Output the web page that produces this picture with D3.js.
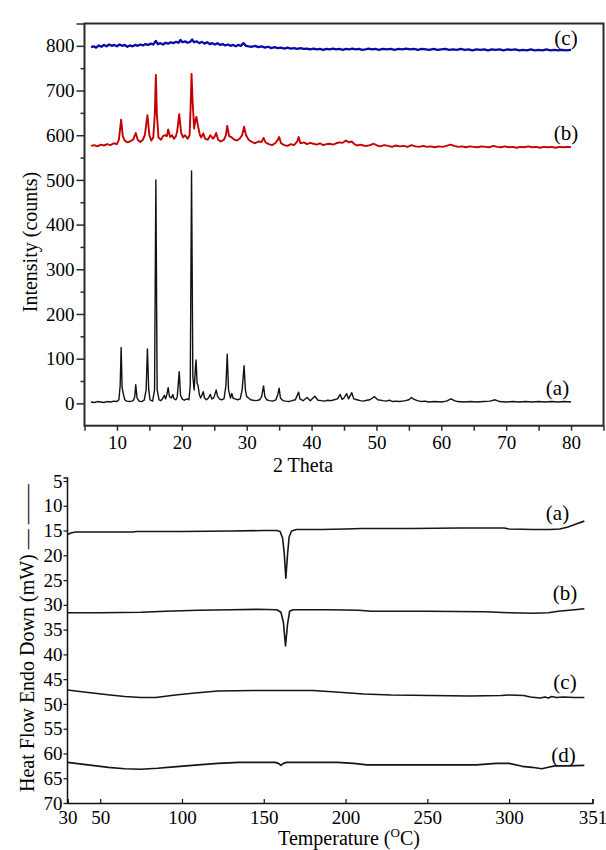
<!DOCTYPE html>
<html><head><meta charset="utf-8">
<script src="https://cdn.jsdelivr.net/npm/d3@7"></script>
<style>body{margin:0;background:#fff}svg{display:block}text{font-family:"Liberation Serif","Times New Roman",serif;fill:#000}</style>
</head><body><svg id="c" width="606" height="850"></svg>
<script>
// ---------- XRD data (2 Theta, counts) ----------
const xrdA = [[6.0,3],[6.5,2],[7.0,4],[7.5,3],[8.0,2],[8.5,4],[9.0,3],[9.5,5],[10.0,4],[10.3,8],[10.5,40],[10.65,125],[10.8,35],[11.0,20],[11.2,8],[11.5,5],[12.0,4],[12.5,6],[12.75,15],[12.9,42],[13.1,12],[13.4,5],[13.8,4],[14.2,7],[14.5,30],[14.7,122],[14.9,30],[15.1,8],[15.5,5],[15.8,30],[16.0,500],[16.2,30],[16.5,8],[16.8,6],[17.1,12],[17.3,18],[17.5,10],[17.7,20],[17.9,35],[18.1,15],[18.4,12],[18.6,20],[18.8,10],[19.1,8],[19.3,15],[19.6,71],[19.8,18],[20.1,9],[20.4,7],[20.8,10],[21.1,8],[21.3,40],[21.5,520],[21.7,60],[21.9,30],[22.1,80],[22.2,97],[22.35,45],[22.5,40],[22.7,20],[22.9,12],[23.1,18],[23.3,26],[23.5,12],[23.8,8],[24.1,12],[24.4,20],[24.6,10],[24.9,12],[25.1,20],[25.3,30],[25.5,16],[25.8,10],[26.1,8],[26.5,10],[26.8,40],[27.0,110],[27.2,30],[27.5,12],[27.7,22],[27.9,12],[28.2,10],[28.6,8],[29.0,10],[29.3,30],[29.6,84],[29.8,30],[30.0,15],[30.3,12],[30.6,8],[31.0,7],[31.5,6],[32.0,8],[32.3,15],[32.6,39],[32.8,15],[33.1,8],[33.5,6],[34.0,5],[34.5,8],[34.8,20],[35.0,34],[35.2,12],[35.6,6],[36.0,5],[36.5,4],[37.0,6],[37.5,8],[37.8,18],[38.0,25],[38.2,10],[38.7,6],[39.3,13],[39.8,6],[40.5,16],[41.0,7],[41.5,6],[42.0,5],[42.5,7],[43.0,6],[43.5,8],[44.0,10],[44.4,20],[44.7,9],[45.0,12],[45.4,22],[45.7,10],[46.2,24],[46.5,10],[47.0,8],[47.5,6],[48.0,5],[48.5,7],[49.0,8],[49.7,15],[50.2,8],[51.0,6],[51.5,5],[52.0,7],[52.5,4],[53.0,5],[53.5,4],[54.0,5],[54.5,6],[55.0,8],[55.4,13],[55.8,9],[56.3,6],[57.0,4],[57.5,5],[58.0,3],[59.0,4],[60.0,3],[60.8,5],[61.5,10],[62.0,6],[62.5,4],[63.5,3],[64.5,4],[65.5,3],[66.5,4],[67.5,5],[68.3,8],[69.0,4],[70.0,3],[71.0,4],[72.0,3],[73.0,4],[74.0,3],[75.0,4],[76.0,3],[77.0,4],[78.0,3],[79.0,4],[80.0,3]];
const xrdB = [[6.0,576],[6.5,578],[7.0,575],[7.5,579],[8.0,577],[8.5,580],[9.0,578],[9.5,582],[10.0,580],[10.3,590],[10.65,635],[10.9,598],[11.2,588],[11.6,584],[12.0,586],[12.5,590],[12.9,605],[13.2,590],[13.6,585],[14.0,590],[14.3,600],[14.7,645],[15.0,600],[15.3,588],[15.6,595],[15.85,650],[16.0,735],[16.15,650],[16.4,595],[16.8,590],[17.1,598],[17.4,600],[17.7,598],[17.9,613],[18.2,596],[18.5,600],[18.8,592],[19.1,598],[19.3,610],[19.6,647],[19.9,605],[20.2,595],[20.5,600],[20.9,592],[21.2,600],[21.35,660],[21.5,737],[21.65,680],[21.9,615],[22.1,635],[22.25,641],[22.5,620],[22.8,600],[23.0,595],[23.3,604],[23.6,592],[24.0,590],[24.4,600],[24.8,592],[25.1,598],[25.3,605],[25.6,590],[26.0,586],[26.5,590],[26.8,600],[27.0,621],[27.3,598],[27.7,595],[28.1,590],[28.5,588],[28.9,592],[29.3,600],[29.6,619],[29.9,600],[30.3,590],[30.8,585],[31.3,582],[31.8,586],[32.3,585],[32.6,594],[32.9,584],[33.4,580],[33.9,578],[34.4,582],[34.8,590],[35.0,596],[35.3,582],[35.8,578],[36.3,576],[36.8,580],[37.3,578],[37.8,586],[38.0,596],[38.3,582],[38.8,584],[39.3,580],[39.8,583],[40.3,581],[40.8,579],[41.3,582],[41.8,578],[42.3,580],[42.8,581],[43.3,579],[43.8,582],[44.3,584],[44.8,583],[45.3,588],[45.8,584],[46.2,586],[46.6,580],[47.0,577],[47.5,579],[48.0,577],[48.5,576],[49.0,578],[49.6,581],[50.1,577],[50.6,575],[51.2,578],[51.8,576],[52.4,574],[53.0,577],[53.6,575],[54.2,576],[54.8,574],[55.4,578],[56.0,575],[56.6,574],[57.2,576],[57.8,574],[58.4,575],[59.0,573],[59.6,575],[60.2,574],[60.8,576],[61.4,579],[62.0,576],[62.6,574],[63.2,575],[63.8,573],[64.4,575],[65.0,574],[65.6,573],[66.2,575],[66.8,574],[67.4,573],[68.0,576],[68.6,574],[69.2,573],[69.8,575],[70.4,573],[71.0,574],[71.6,572],[72.2,574],[72.8,573],[73.4,575],[74.0,573],[74.6,574],[75.2,572],[75.8,574],[76.4,573],[77.0,574],[77.6,572],[78.2,574],[78.8,573],[79.4,574],[80.0,573]];
const xrdC = [[6.0,797],[6.4,799],[6.8,796],[7.2,801],[7.6,798],[8.0,802],[8.4,799],[8.8,803],[9.2,800],[9.6,802],[10.0,799],[10.4,803],[10.8,800],[11.2,802],[11.6,798],[12.0,801],[12.4,799],[12.8,802],[13.2,800],[13.6,803],[14.0,801],[14.4,804],[14.8,802],[15.2,805],[15.6,803],[16.0,811],[16.3,804],[16.7,806],[17.1,803],[17.5,807],[17.9,805],[18.3,808],[18.7,806],[19.1,809],[19.5,807],[19.8,813],[20.1,808],[20.5,810],[20.9,807],[21.3,809],[21.6,814],[21.9,808],[22.3,810],[22.7,806],[23.1,809],[23.5,805],[23.9,808],[24.3,804],[24.7,806],[25.1,803],[25.5,806],[25.9,802],[26.3,804],[26.7,801],[27.1,803],[27.5,800],[27.9,802],[28.3,799],[28.7,802],[29.1,800],[29.5,806],[29.9,800],[30.3,799],[30.8,798],[31.3,800],[31.8,797],[32.3,799],[32.8,796],[33.3,798],[33.8,795],[34.3,797],[34.8,795],[35.3,796],[35.8,794],[36.3,796],[36.8,794],[37.3,795],[37.8,793],[38.3,795],[38.8,793],[39.3,794],[39.8,792],[40.3,794],[40.8,792],[41.3,793],[41.8,791],[42.3,793],[42.8,792],[43.3,794],[43.8,792],[44.3,793],[44.8,791],[45.3,793],[45.8,792],[46.3,794],[46.8,792],[47.3,793],[47.8,791],[48.3,792],[48.8,794],[49.3,792],[49.8,793],[50.4,791],[51.0,793],[51.6,792],[52.2,793],[52.8,791],[53.4,793],[54.0,792],[54.6,794],[55.2,792],[55.8,793],[56.4,791],[57.0,793],[57.6,792],[58.2,791],[58.8,793],[59.4,791],[60.0,792],[60.6,793],[61.2,791],[61.8,792],[62.4,791],[63.0,793],[63.6,791],[64.2,792],[64.8,790],[65.4,792],[66.0,791],[66.6,792],[67.2,790],[67.8,792],[68.4,791],[69.0,792],[69.6,790],[70.2,792],[70.8,791],[71.4,792],[72.0,790],[72.6,791],[73.2,790],[73.8,792],[74.4,790],[75.0,791],[75.6,790],[76.2,792],[76.8,790],[77.4,791],[78.0,790],[78.6,791],[79.2,790],[80.0,791]];
const xrdYTicks = [0,100,200,300,400,500,600,700,800];
const xrdXTicks = [10,20,30,40,50,60,70,80];
const xrdLabels = [["(a)",0],["(b)",1],["(c)",2]];

// ---------- DSC data (Temperature °C, mW) ----------
const dscA = [[30,15.8],[32,15.5],[35,15.3],[60,15.3],[70,15.3],[72,15.2],[100,15.2],[130,15.1],[150,15.0],[158,15.0],[160,15.2],[161.5,16.5],[162.5,19.5],[163.5,24.6],[164.5,20],[165.5,16.3],[167,15.1],[170,14.8],[185,14.8],[200,14.7],[210,14.6],[240,14.6],[270,14.5],[297,14.5],[300,14.7],[315,14.8],[325,14.8],[331,14.7],[336,14.3],[341,13.7],[346,13.1]];
const dscB = [[30,31.6],[50,31.6],[75,31.5],[90,31.3],[110,31.1],[130,31.0],[146,30.9],[158,31.0],[160.5,31.5],[162,33.5],[163.3,38.3],[164.5,34],[165.8,31.3],[168,31.0],[190,31.0],[208,31.1],[216,31.3],[250,31.3],[285,31.4],[300,31.6],[315,31.7],[324,31.6],[330,31.3],[340,31.0],[346,30.8]];
const dscC = [[30,47.2],[40,47.6],[48,47.9],[56,48.2],[65,48.5],[75,48.7],[84,48.7],[96,48.2],[108,47.8],[122,47.4],[144,47.3],[165,47.3],[180,47.3],[194,47.6],[211,48.0],[228,48.2],[252,48.3],[276,48.4],[295,48.3],[300,48.2],[309,48.3],[313,48.6],[319,48.8],[322,48.6],[324,48.8],[326,48.5],[329,48.7],[333,48.6],[340,48.7],[346,48.7]];
const dscD = [[30,61.8],[35,62.0],[45,62.4],[55,62.8],[65,63.1],[75,63.2],[85,63.0],[95,62.7],[110,62.3],[122,62.0],[135,61.8],[150,61.8],[157,61.8],[159,62.0],[160.5,62.4],[162,62.0],[164,61.8],[180,61.8],[195,61.8],[205,62.0],[213,62.3],[230,62.3],[260,62.3],[280,62.3],[292,62.0],[300,62.0],[308,62.6],[314,62.8],[320,63.1],[324,62.8],[328,62.5],[335,62.5],[346,62.4]];
const dscYTicks = [5,10,15,20,25,30,35,40,45,50,55,60,65,70];
const dscXTicks = [30,50,100,150,200,250,300,351];
const dscLabels = ["(a)","(b)","(c)","(d)"];

const svg = d3.select("#c");

// ================= TOP: XRD =================
const x1 = d3.scaleLinear().domain([5,85]).range([84.5,603.5]);
const y1 = d3.scaleLinear().domain([-50,850]).range([425.7,23.5]);

// frame
svg.append("rect").attr("x",x1(5)).attr("y",y1(850)).attr("width",x1(85)-x1(5)).attr("height",y1(-50)-y1(850))
  .attr("fill","none").attr("stroke","#2a2a2a").attr("stroke-width",2);

const gyl = svg.append("g").attr("transform",`translate(${x1(5)},0)`)
  .call(d3.axisLeft(y1).tickValues(xrdYTicks.concat([850])).tickSize(8).tickPadding(2).tickFormat(d=>d===850?"":d));
const gym = svg.append("g").attr("transform",`translate(${x1(5)},0)`)
  .call(d3.axisLeft(y1).tickValues(d3.range(50,800,100)).tickSize(4).tickFormat(""));
const gxl = svg.append("g").attr("transform",`translate(0,${y1(-50)})`)
  .call(d3.axisBottom(x1).tickValues(xrdXTicks).tickSize(5).tickPadding(5));
const gxm = svg.append("g").attr("transform",`translate(0,${y1(-50)})`)
  .call(d3.axisBottom(x1).tickValues(d3.range(5,90,10)).tickSize(5).tickFormat(""));
[gyl,gym,gxl,gxm].forEach(g=>{
  g.select(".domain").remove();
  g.selectAll(".tick line").attr("stroke","#2a2a2a").attr("stroke-width",1.5);
  g.selectAll("text").style("font-size","19px").style("font-family","Liberation Serif").attr("fill","#000");
});

const line1 = d3.line().x(d=>x1(d[0])).y(d=>y1(d[1]));
const xrdSeries = [
  {data:xrdA,color:"#111111",w:1.4},
  {data:xrdB,color:"#c40000",w:1.9},
  {data:xrdC,color:"#0a0aa8",w:2.3}
];
xrdSeries.forEach(s=>{
  svg.append("path").datum(s.data).attr("d",line1).attr("fill","none")
    .attr("stroke",s.color).attr("stroke-width",s.w).attr("stroke-linejoin","round");
});

const xrdLabelPos = [[557.5,395],[566,140],[566,45]];
xrdLabels.forEach(([t,i])=>{
  svg.append("text").attr("x",xrdLabelPos[i][0]).attr("y",xrdLabelPos[i][1]).attr("text-anchor","middle")
    .style("font-size","21px").text(t);
});

svg.append("text").attr("x",303).attr("y",472).attr("text-anchor","middle").style("font-size","20px").text("2 Theta");
svg.append("text").attr("transform","translate(37,242) rotate(-90)").attr("text-anchor","middle")
  .style("font-size","20px").text("Intensity (counts)");

// ================= BOTTOM: DSC =================
const x2 = d3.scaleLinear().domain([30,351]).range([67.5,592.5]);
const y2 = d3.scaleLinear().domain([5,70]).range([481,803]);

const gy2 = svg.append("g").attr("transform",`translate(${x2(30)},0)`)
  .call(d3.axisLeft(y2).tickValues(dscYTicks).tickSize(4).tickPadding(1));
const gx2 = svg.append("g").attr("transform",`translate(0,${y2(70)})`)
  .call(d3.axisBottom(x2).tickValues(dscXTicks).tickSize(-4).tickPadding(8));
[gy2,gx2].forEach(g=>{
  g.select(".domain").attr("stroke","#111").attr("stroke-width",1.5);
  g.selectAll(".tick line").attr("stroke","#111").attr("stroke-width",1.2);
  g.selectAll("text").style("font-size","19px").style("font-family","Liberation Serif").attr("fill","#000");
});
gy2.select(".domain").attr("d",`M-4,${y2(5)-3}H0V${y2(70)}`);

const line2 = d3.line().x(d=>x2(d[0])).y(d=>y2(d[1]));
[dscA,dscB,dscC,dscD].forEach(s=>{
  svg.append("path").datum(s).attr("d",line2).attr("fill","none")
    .attr("stroke","#151515").attr("stroke-width",1.6).attr("stroke-linejoin","round");
});

const dscLabelPos = [[557.5,520],[565,600],[565,689],[563.5,762]];
dscLabels.forEach((t,i)=>{
  svg.append("text").attr("x",dscLabelPos[i][0]).attr("y",dscLabelPos[i][1]).attr("text-anchor","middle")
    .style("font-size","21px").text(t);
});

const tt = svg.append("text").attr("x",349).attr("y",845).attr("text-anchor","middle").style("font-size","20px");
tt.append("tspan").text("Temperature (");
tt.append("tspan").attr("dy",-8).style("font-size","13px").text("O");
tt.append("tspan").attr("dy",8).text("C)");

svg.append("text").attr("transform","translate(34,792) rotate(-90)").attr("text-anchor","start")
  .style("font-size","20px").text("Heat Flow Endo Down (mW) \u2014 \u2014\u2014");
</script></body></html>
